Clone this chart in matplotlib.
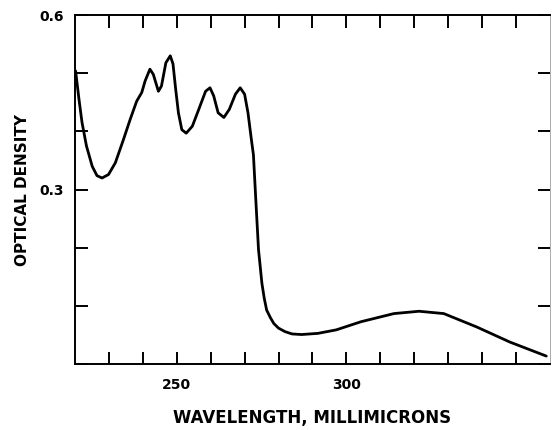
import matplotlib
matplotlib.use("Agg")
import matplotlib.pyplot as plt
from matplotlib.ticker import FixedFormatter, FixedLocator

# wavelength (millimicrons) and optical density
wavelength = [220.2, 221.2, 222.1, 223.4, 225.1, 226.5, 228.0, 229.9, 231.9, 234.3,
              236.3, 238.2, 239.7, 240.7, 242.1, 243.1, 244.6, 245.5, 246.8, 248.1,
              248.9, 249.7, 250.5, 251.5, 252.8, 254.6, 256.5, 258.5, 259.8, 260.9,
              262.2, 263.9, 265.5, 267.3, 268.7, 270.0, 271.0, 272.0, 272.6, 273.3,
              274.1, 275.1, 275.8, 276.5, 277.6, 278.6, 280.0, 281.9, 284.0, 286.8,
              291.6, 297.0, 304.3, 314.0, 321.4, 328.7, 338.4, 348.2, 358.9]
density = [0.504, 0.455, 0.415, 0.375, 0.340, 0.324, 0.320, 0.326, 0.346, 0.386,
           0.421, 0.452, 0.467, 0.487, 0.507, 0.498, 0.469, 0.478, 0.518, 0.530,
           0.516, 0.472, 0.432, 0.403, 0.397, 0.409, 0.438, 0.469, 0.475, 0.461,
           0.432, 0.424, 0.438, 0.464, 0.475, 0.464, 0.432, 0.386, 0.360, 0.283,
           0.197, 0.139, 0.113, 0.093, 0.080, 0.070, 0.062, 0.056, 0.052, 0.051,
           0.053, 0.059, 0.073, 0.087, 0.091, 0.087, 0.064, 0.038, 0.014]

x_ticks = list(range(230, 351, 10))
x_labels = [str(t) if t in (250, 300) else '' for t in x_ticks]
y_ticks = [0.0, 0.1, 0.2, 0.3, 0.4, 0.5, 0.6]
y_labels = ['', '', '', '0.3', '', '', '0.6']

fig = plt.figure(figsize=(5.55, 4.30), dpi=100)
ax = fig.add_axes([0.135, 0.153, 0.856, 0.812])

ax.plot(wavelength, density, color='black', linewidth=2.0,
        solid_joinstyle='round', solid_capstyle='round')

ax.set_xlim(220, 360)
ax.set_ylim(0, 0.6)

ax.xaxis.set_major_locator(FixedLocator(x_ticks))
ax.xaxis.set_major_formatter(FixedFormatter(x_labels))
ax.yaxis.set_major_locator(FixedLocator(y_ticks))
ax.yaxis.set_major_formatter(FixedFormatter(y_labels))

ax.tick_params(direction='in', length=9, width=1.4, top=True, right=True,
               labelsize=10, colors='black')
ax.tick_params(axis='x', pad=10)
ax.tick_params(axis='y', pad=8)
for lab in ax.get_xticklabels() + ax.get_yticklabels():
    lab.set_fontweight('bold')

for side in ('left', 'bottom', 'top'):
    ax.spines[side].set_linewidth(1.4)
ax.spines['right'].set_linewidth(0.7)
ax.spines['right'].set_color('#aaaaaa')

ax.set_xlabel('WAVELENGTH, MILLIMICRONS', fontsize=12, fontweight='bold', labelpad=12)
ax.set_ylabel('OPTICAL DENSITY', fontsize=11, fontweight='bold', labelpad=7)

fig.savefig('out.png', dpi=100)
